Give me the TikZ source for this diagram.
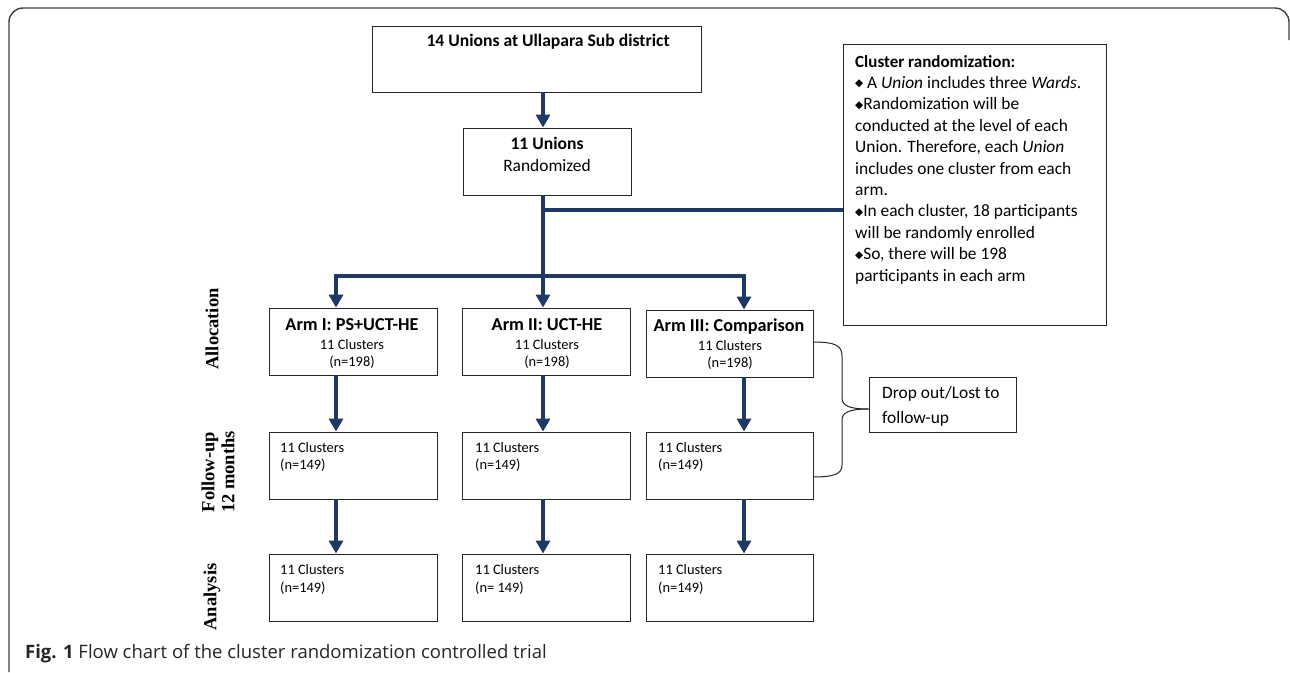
\documentclass[tikz,border=0pt]{standalone}
\usepackage{fontspec}
\setmainfont{Carlito}
\newfontfamily\tnr{Liberation Serif}
\newfontfamily\capfont{Open Sans}
\newfontfamily\djv{DejaVu Sans}
\usetikzlibrary{arrows.meta}
\definecolor{navy}{RGB}{31,56,100}
\newcommand{\bul}{\raisebox{1.6pt}{\djv\fontsize{10.5}{10}\selectfont ◆}}
\begin{document}
\begin{tikzpicture}[x=1pt,y=-1pt,
  box/.style={draw=black!85, line width=0.9pt, inner sep=0pt, fill=white},
  arr/.style={draw=navy, line width=4.5pt, -{Triangle[width=14pt,length=13pt]}},
  trunk/.style={draw=navy, line width=4.5pt},
  t/.style={inner sep=0pt, text height=0.64em, text depth=0pt},
  big/.style={t, font=\fontsize{17.4}{20}\selectfont},
  bigb/.style={t, font=\fontsize{17.6}{20}\selectfont\bfseries},
  armb/.style={t, font=\fontsize{18.2}{20}\selectfont\bfseries},
  sm/.style={t, font=\fontsize{14.4}{17}\selectfont},
  lab/.style={inner sep=0pt, rotate=90, align=center, font=\tnr\bfseries\fontsize{18.5}{20}\selectfont},
  brace/.style={draw=black!85, line width=1pt}]
\useasboundingbox (0,0) rectangle (1290,672);
\fill[white] (0,0) rectangle (1290,672);
% frame
\draw[line width=1.4pt, black!75, rounded corners=14pt] (9,672) -- (9,8) -- (1289,8) -- (1289,40);

% boxes
\node[box, minimum width=329pt, minimum height=66pt] (top) at (536.5,59) {};
\node[box, minimum width=168pt, minimum height=67pt] (unions) at (547,161.5) {};
\node[box, minimum width=263pt, minimum height=281pt] (cluster) at (974.5,184.5) {};
\node[box, minimum width=168pt, minimum height=67pt] (armI) at (353,341.5) {};
\node[box, minimum width=168pt, minimum height=67pt] (armII) at (546,341.5) {};
\node[box, minimum width=167pt, minimum height=67pt] (armIII) at (729.5,343.5) {};
\node[box, minimum width=168pt, minimum height=67pt] (fuI) at (353,465.5) {};
\node[box, minimum width=168pt, minimum height=67pt] (fuII) at (546,465.5) {};
\node[box, minimum width=167pt, minimum height=67pt] (fuIII) at (729.5,465.5) {};
\node[box, minimum width=168pt, minimum height=67pt] (anI) at (353,587.5) {};
\node[box, minimum width=168pt, minimum height=67pt] (anII) at (546,587.5) {};
\node[box, minimum width=167pt, minimum height=67pt] (anIII) at (729.5,587.5) {};
\node[box, minimum width=147pt, minimum height=55pt] (drop) at (942.5,404.5) {};

% texts
\node[bigb] (ttop) at (548,43) {14 Unions at Ullapara Sub district};
\node[bigb] (tun1) at (547,146) {11 Unions};
\node[big] (tun2) at (547,168) {Randomized};

\node[inner sep=0pt, anchor=north west, align=left, font=\fontsize{17.4}{21.4}\selectfont] (tcl) at (855,55)
{{\fontsize{17}{21.4}\selectfont\bfseries Cluster randomization:}\\
\bul{} A \textit{Union} includes three \textit{Wards}.\\
\bul Randomization will be\\
conducted at the level of each\\
Union. Therefore, each \textit{Union}\\
includes one cluster from each\\
arm.\\
\bul In each cluster, 18 participants\\
will be randomly enrolled\\
\bul So, there will be 198\\
participants in each arm};

\node[armb] (ta1) at (352,327) {Arm I: PS+UCT-HE};
\node[sm] (ta1b) at (352,346) {11 Clusters};
\node[sm] (ta1c) at (352,363) {(n=198)};
\node[armb] (ta2) at (547,327) {Arm II: UCT-HE};
\node[sm] (ta2b) at (547,346) {11 Clusters};
\node[sm] (ta2c) at (547,363) {(n=198)};
\node[armb] (ta3) at (729,328) {Arm III: Comparison};
\node[sm] (ta3b) at (730,347) {11 Clusters};
\node[sm] (ta3c) at (730,364) {(n=198)};

\node[sm, anchor=west] (tf1b) at (280,449) {11 Clusters};
\node[sm, anchor=west] (tf1c) at (280,466) {(n=149)};
\node[sm, anchor=west] (tf2b) at (475,449) {11 Clusters};
\node[sm, anchor=west] (tf2c) at (475,466) {(n=149)};
\node[sm, anchor=west] (tf3b) at (658,449) {11 Clusters};
\node[sm, anchor=west] (tf3c) at (658,466) {(n=149)};

\node[sm, anchor=west] (tn1b) at (280,571) {11 Clusters};
\node[sm, anchor=west] (tn1c) at (280,589) {(n=149)};
\node[sm, anchor=west] (tn2b) at (475,571) {11 Clusters};
\node[sm, anchor=west] (tn2c) at (475,589) {(n= 149)};
\node[sm, anchor=west] (tn3b) at (658,571) {11 Clusters};
\node[sm, anchor=west] (tn3c) at (658,589) {(n=149)};

\node[big, anchor=west] (td1) at (882,395) {Drop out/Lost to};
\node[big, anchor=west] (td2) at (882,420) {follow-up};

% side labels
\node[lab] (lalloc) at (212,329) {Allocation};
\node[lab] (lfu) at (218,472) {Follow-up\\12 months};
\node[lab] (lan) at (212,597) {Analysis};

% caption
\node[inner sep=0pt, anchor=west, text height=0.72em, text depth=0pt, font=\capfont\fontsize{18.5}{20}\selectfont, text=black!85] (cap) at (25,655)
{\textbf{Fig. 1} Flow chart of the cluster randomization controlled trial};

% connectors
\coordinate (split) at (543,276);
\coordinate (branch) at (543,210);
\coordinate (cA) at (336,276);
\coordinate (cC) at (744,276);
\draw[arr] (top.south -| split) -- (unions.north -| split);
\draw[trunk] (branch) -- (cluster.west |- branch);
\draw[arr] (unions.south -| split) -- (armII.north -| split);
\draw[arr] (split) -| (armI.north -| cA);
\draw[arr] (split) -| (armIII.north -| cC);
\draw[arr] (armI.south -| cA) -- (fuI.north -| cA);
\draw[arr] (armII.south -| split) -- (fuII.north -| split);
\draw[arr] (armIII.south -| cC) -- (fuIII.north -| cC);
\draw[arr] (fuI.south -| cA) -- (anI.north -| cA);
\draw[arr] (fuII.south -| split) -- (anII.north -| split);
\draw[arr] (fuIII.south -| cC) -- (anIII.north -| cC);

% brace
\coordinate (btip) at ([yshift=-4.5pt]drop.west);
\coordinate (bstart) at (armIII.east |- 0,342);
\coordinate (bend) at (fuIII.east |- 0,477);
\draw[brace] (bstart) .. controls (836,342) and (842,346) .. (842,356) -- (842,398)
  .. controls (842,406) and (850,409) .. (btip);
\draw[brace] (btip) .. controls (850,409) and (842,412) .. (842,420) -- (842,465)
  .. controls (842,473) and (836,477) .. (bend);
\end{tikzpicture}
\end{document}
